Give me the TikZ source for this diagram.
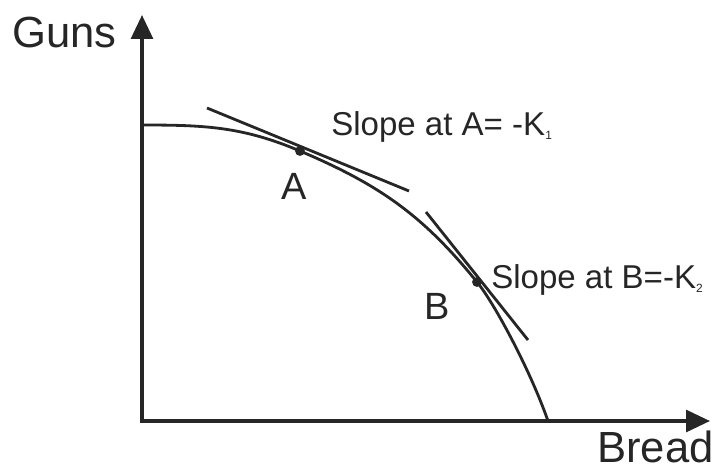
\documentclass[tikz,border=0pt]{standalone}
\usepackage{fontspec}
\setmainfont{Liberation Sans}
\usetikzlibrary{arrows.meta, positioning}

\newcommand{\lowsub}[1]{\raisebox{-3.5pt}{\fontsize{8.5}{10}\selectfont #1}}

\begin{document}
\begin{tikzpicture}[
        x=0.025cm, y=-0.025cm,
        % Styles
        axis/.style={line width=2.4pt, {Triangle[width=15.5pt,length=17pt]}-{Triangle[width=15.5pt,length=17pt]}, black!85},
        frontier/.style={line width=2pt, black!85},
        tangent/.style={line width=2pt, black!85},
        point/.style={circle, fill=black!85, inner sep=0pt, minimum size=7pt},
        axislabel/.style={font=\fontsize{31}{37}\selectfont, text=black!85, inner sep=0pt},
        ptlabel/.style={font=\fontsize{27}{32}\selectfont, text=black!85, inner sep=0pt},
        slopelabel/.style={font=\fontsize{23.5}{28}\selectfont, text=black!85, inner sep=0pt}
    ]
    \useasboundingbox (0,0) rectangle (719,470);

    % --- Coordinates ---
    \coordinate (O) at (142,421);     % Origin
    \coordinate (Ytip) at (142,15);   % Guns axis tip
    \coordinate (Xtip) at (710,421);  % Bread axis tip
    \coordinate (S) at (142,125);     % Frontier meets Guns axis
    \coordinate (E) at (548,421);     % Frontier meets Bread axis
    \coordinate (A) at (300,151);
    \coordinate (B) at (477,282);
    \coordinate (cB1) at (495,304);   % controls for the steep part
    \coordinate (cB2) at (531,372);

    % --- 1. Axes ---
    \draw[axis] (Ytip) -- (O) -- (Xtip);

    % --- 2. Frontier ---
    \draw[frontier] (S) to[out=0, in=157] (A)
                        to[out=-23, in=129] (B)
                        .. controls (cB1) and (cB2) .. (E);

    % --- 3. Tangent lines ---
    \coordinate (A1) at (207,108);
    \coordinate (A2) at (409,191);
    \coordinate (B1) at (426,212);
    \coordinate (B2) at (528,340);
    \draw[tangent] (A1) -- (A2);
    \draw[tangent] (B1) -- (B2);

    \node[point] (dotA) at (A) {};
    \node[point] (dotB) at (B) {};

    % --- 4. Labels ---
    \node[axislabel, anchor=base west] (guns) at (12,47) {Guns};
    \node[axislabel, anchor=base west] (bread) at (597,462) {Bread};
    \node[ptlabel] (labA) at (294,186) {A};
    \node[ptlabel] (labB) at (437,306) {B};
    \node[slopelabel, anchor=base west] (slopeA) at (331,135) {Slope at A= -K\lowsub{1}};
    \node[slopelabel, anchor=base west] (slopeB) at (491,288) {Slope at B=-K\lowsub{2}};

\end{tikzpicture}
\end{document}
